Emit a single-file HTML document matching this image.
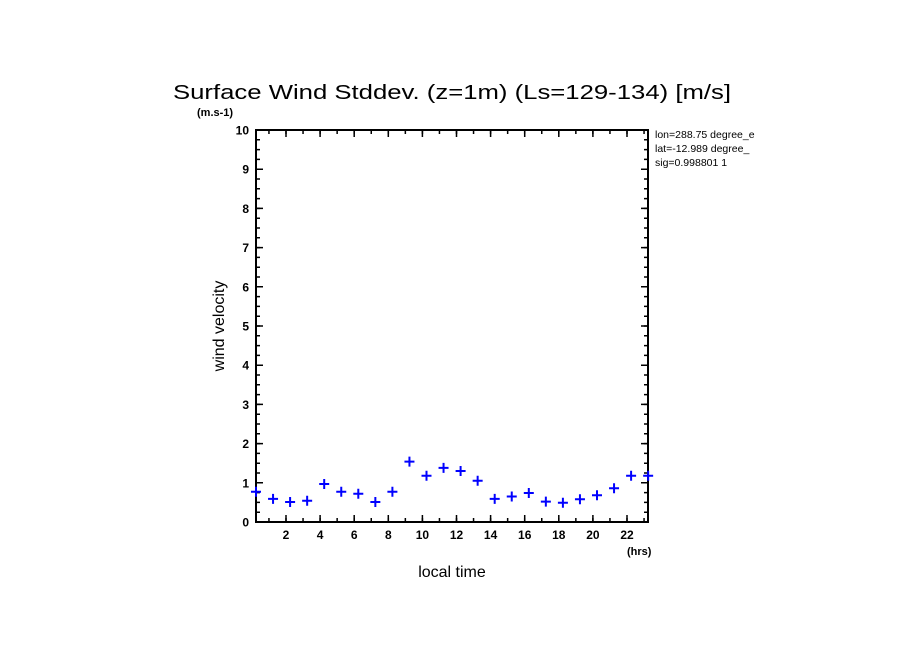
<!DOCTYPE html>
<html><head><style>body{margin:0;background:#fff}svg{display:block}</style></head><body>
<svg width="904" height="654" xmlns="http://www.w3.org/2000/svg" font-family="Liberation Sans, sans-serif">
<rect width="904" height="654" fill="#fff"/>
<text x="173" y="99" font-size="20" textLength="558" lengthAdjust="spacingAndGlyphs">Surface Wind Stddev. (z=1m) (Ls=129-134) [m/s]</text>
<text x="197" y="116" font-size="11" font-weight="bold">(m.s-1)</text>
<text x="655" y="138" font-size="10.5">lon=288.75 degree_e</text>
<text x="655" y="152" font-size="10.5">lat=-12.989 degree_</text>
<text x="655" y="166" font-size="10.5">sig=0.998801 1</text>
<rect x="779" y="128" width="20" height="45" fill="#fff"/>
<rect x="256" y="130" width="392" height="392" stroke="#000" stroke-width="2" fill="none"/>
<g stroke="#000" fill="none">
<line x1="258" y1="129.25" x2="258" y2="523" stroke-width="4" stroke-dasharray="1.5 8.3"/>
<line x1="259.5" y1="129.25" x2="259.5" y2="523" stroke-width="7" stroke-dasharray="1.5 37.7"/>
<line x1="646" y1="129.25" x2="646" y2="523" stroke-width="4" stroke-dasharray="1.5 8.3"/>
<line x1="644.5" y1="129.25" x2="644.5" y2="523" stroke-width="7" stroke-dasharray="1.5 37.7"/>
<line x1="268.2" y1="520" x2="648" y2="520" stroke-width="4" stroke-dasharray="1.5 15.55"/>
<line x1="285.25" y1="518.5" x2="648" y2="518.5" stroke-width="7" stroke-dasharray="1.5 32.6"/>
<line x1="268.2" y1="132" x2="648" y2="132" stroke-width="4" stroke-dasharray="1.5 15.55"/>
<line x1="285.25" y1="133.5" x2="648" y2="133.5" stroke-width="7" stroke-dasharray="1.5 32.6"/>
</g>
<g font-size="12" font-weight="bold" text-anchor="end">
<text x="249" y="526.5">0</text><text x="249" y="487.3">1</text><text x="249" y="448.1">2</text><text x="249" y="408.9">3</text><text x="249" y="369.7">4</text><text x="249" y="330.5">5</text><text x="249" y="291.3">6</text><text x="249" y="252.1">7</text><text x="249" y="212.9">8</text><text x="249" y="173.7">9</text><text x="249" y="134.5">10</text>
</g>
<g font-size="12" font-weight="bold" text-anchor="middle">
<text x="286" y="539">2</text><text x="320.1" y="539">4</text><text x="354.2" y="539">6</text><text x="388.3" y="539">8</text><text x="422.4" y="539">10</text><text x="456.5" y="539">12</text><text x="490.6" y="539">14</text><text x="524.7" y="539">16</text><text x="558.8" y="539">18</text><text x="592.9" y="539">20</text><text x="627" y="539">22</text>
</g>
<text x="627" y="555" font-size="11" font-weight="bold">(hrs)</text>
<text x="452" y="577" font-size="16" text-anchor="middle">local time</text>
<text x="224" y="326" font-size="16" text-anchor="middle" transform="rotate(-90 224 326)">wind velocity</text>
<path stroke="#0000ff" stroke-width="2" fill="none" d="
M251 491.8h10M256 486.8v10
M268.05 498.9h10M273.05 493.9v10
M285.1 502h10M290.1 497v10
M302.15 500.8h10M307.15 495.8v10
M319.2 484h10M324.2 479v10
M336.25 491.8h10M341.25 486.8v10
M353.3 493.8h10M358.3 488.8v10
M370.35 502h10M375.35 497v10
M387.4 491.8h10M392.4 486.8v10
M404.45 461.6h10M409.45 456.6v10
M421.5 475.7h10M426.5 470.7v10
M438.55 467.9h10M443.55 462.9v10
M455.6 471h10M460.6 466v10
M472.65 480.8h10M477.65 475.8v10
M489.7 498.9h10M494.7 493.9v10
M506.75 496.5h10M511.75 491.5v10
M523.8 493h10M528.8 488v10
M540.85 501.6h10M545.85 496.6v10
M557.9 502.8h10M562.9 497.8v10
M574.95 499.3h10M579.95 494.3v10
M592 495.3h10M597 490.3v10
M609.05 488.3h10M614.05 483.3v10
M626.1 475.7h10M631.1 470.7v10
M643.15 475.7h10M648.15 470.7v10"/>
</svg>
</body></html>
